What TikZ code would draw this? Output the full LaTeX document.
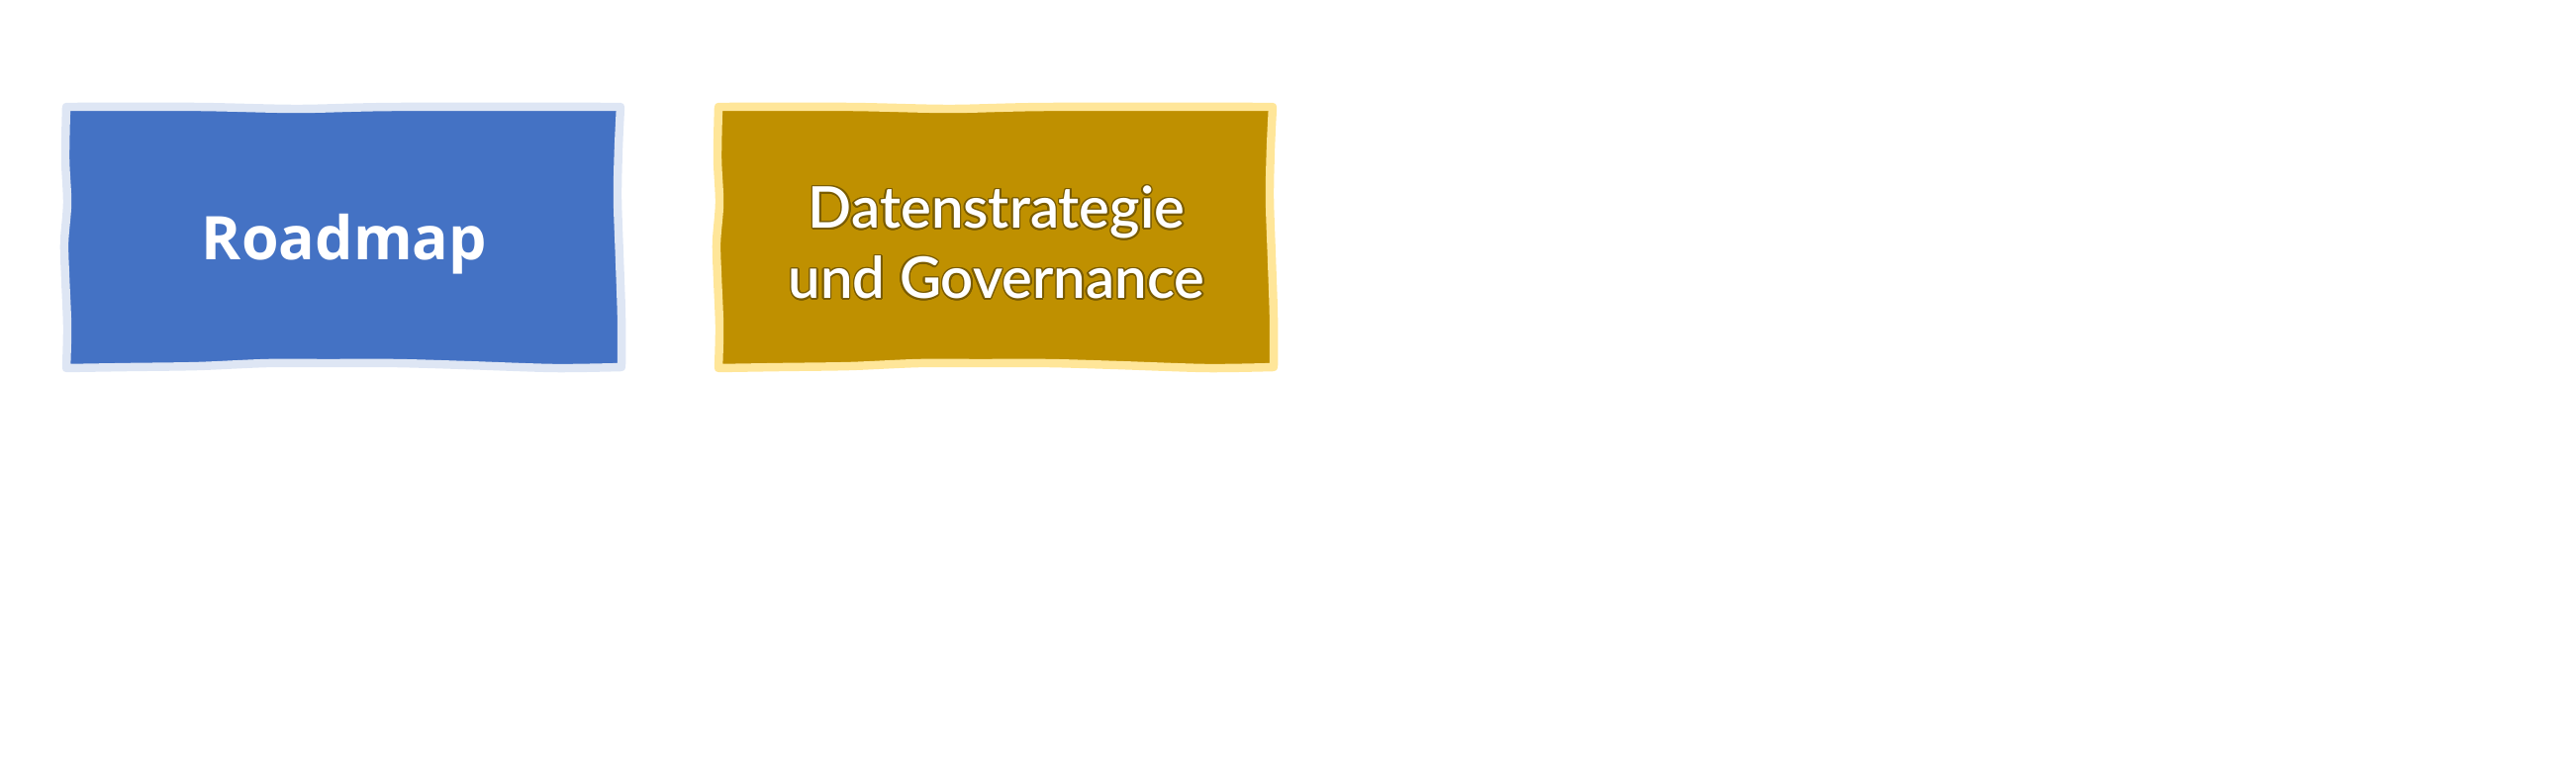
\documentclass[tikz,border=0pt]{standalone}
\usepackage{fontspec}
\usepackage[copies]{contour}
\newfontfamily\roadfont{Open Sans}
\newfontfamily\datafont{Lato Semibold}
\definecolor{boxblue}{HTML}{4472C4}
\definecolor{rimblue}{HTML}{DEE6F4}
\definecolor{boxgold}{HTML}{BF9000}
\definecolor{rimgold}{HTML}{FFE699}
\definecolor{textrim}{HTML}{7A5C00}
\contourlength{0.45pt}
\contournumber{16}

\tikzset{
  handbox/.pic={
    \path[pic actions]
      plot[smooth] coordinates {(67,108) (200,108) (300,110) (400,108) (627,108)}
      -- plot[smooth] coordinates {(627,108) (625,150) (624,200) (626,260) (628,320) (628,371)}
      -- plot[smooth] coordinates {(628,371) (560,372) (470,369) (400,367) (330,367) (270,367) (200,370) (130,371) (67,372)}
      -- plot[smooth] coordinates {(67,372) (68,330) (66,280) (65,245) (68,205) (66,160) (67,108)}
      -- cycle;
  },
  bluebox/.style={fill=boxblue, draw=rimblue, line width=2.4pt, line join=round},
  goldbox/.style={fill=boxgold, draw=rimgold, line width=2.4pt, line join=round},
  boxlabel/.style={text=white, inner sep=0pt, align=center}
}

\begin{document}
\begin{tikzpicture}[x=0.01cm, y=-0.01cm]
\useasboundingbox (0,0) rectangle (2603,767);
% the two boxes
\pic[bluebox] at (0,0) {handbox};
\pic[goldbox] at (659,0) {handbox};
% labels
\node[boxlabel, font=\roadfont\bfseries\fontsize{17.3}{21}\selectfont, anchor=base] (roadmap) at (348,262) {Roadmap};
\node[boxlabel, font=\datafont\fontsize{16.5}{20.2}\selectfont] (daten) at (1007,246)
  {\contour{textrim}{Datenstrategie}\\\contour{textrim}{und Governance}};
\end{tikzpicture}
\end{document}
